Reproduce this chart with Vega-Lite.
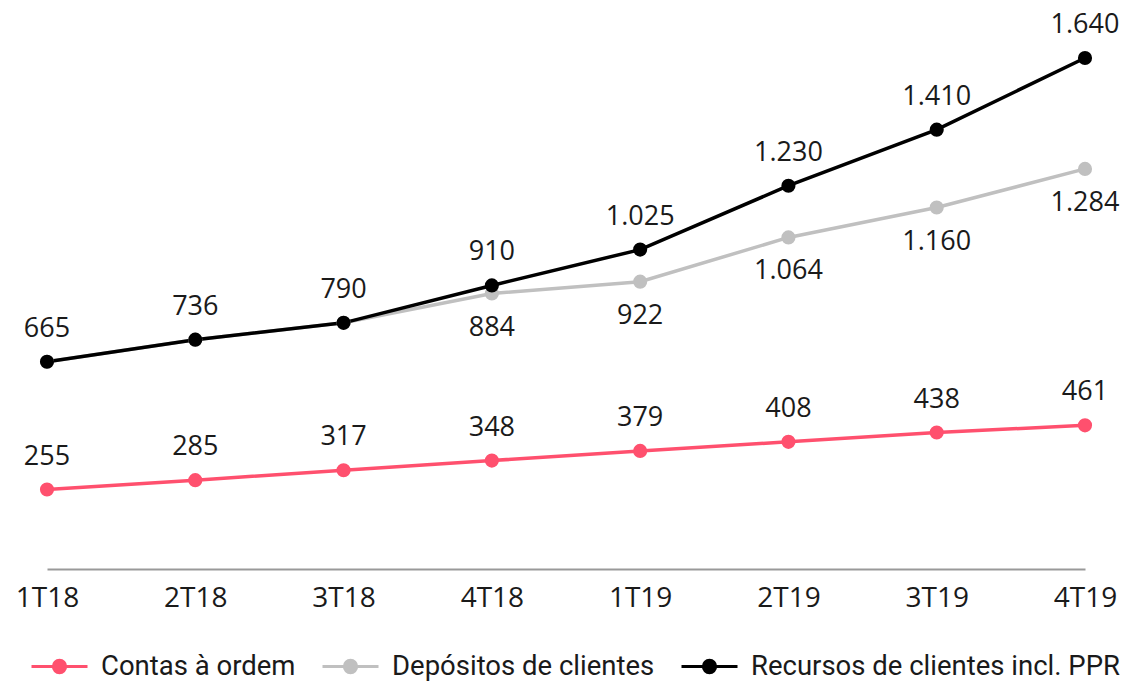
{
  "$schema": "https://vega.github.io/schema/vega-lite/v6.json",
  "width": 1038,
  "height": 569,
  "padding": {"left": 47, "right": 44, "top": 0, "bottom": 115},
  "autosize": {"type": "none"},
  "config": {
    "view": {"stroke": null},
    "font": "Open Sans",
    "locale": {"number": {"decimal": ",", "thousands": ".", "grouping": [3], "currency": ["", " €"]}}
  },
  "data": {
    "values": [
      {"q": "1T18", "s": "Contas à ordem", "v": 255},
      {"q": "2T18", "s": "Contas à ordem", "v": 285},
      {"q": "3T18", "s": "Contas à ordem", "v": 317},
      {"q": "4T18", "s": "Contas à ordem", "v": 348},
      {"q": "1T19", "s": "Contas à ordem", "v": 379},
      {"q": "2T19", "s": "Contas à ordem", "v": 408},
      {"q": "3T19", "s": "Contas à ordem", "v": 438},
      {"q": "4T19", "s": "Contas à ordem", "v": 461},
      {"q": "1T18", "s": "Depósitos de clientes", "v": 665},
      {"q": "2T18", "s": "Depósitos de clientes", "v": 736},
      {"q": "3T18", "s": "Depósitos de clientes", "v": 790},
      {"q": "4T18", "s": "Depósitos de clientes", "v": 884},
      {"q": "1T19", "s": "Depósitos de clientes", "v": 922},
      {"q": "2T19", "s": "Depósitos de clientes", "v": 1064},
      {"q": "3T19", "s": "Depósitos de clientes", "v": 1160},
      {"q": "4T19", "s": "Depósitos de clientes", "v": 1284},
      {"q": "1T18", "s": "Recursos de clientes incl. PPR", "v": 665},
      {"q": "2T18", "s": "Recursos de clientes incl. PPR", "v": 736},
      {"q": "3T18", "s": "Recursos de clientes incl. PPR", "v": 790},
      {"q": "4T18", "s": "Recursos de clientes incl. PPR", "v": 910},
      {"q": "1T19", "s": "Recursos de clientes incl. PPR", "v": 1025},
      {"q": "2T19", "s": "Recursos de clientes incl. PPR", "v": 1230},
      {"q": "3T19", "s": "Recursos de clientes incl. PPR", "v": 1410},
      {"q": "4T19", "s": "Recursos de clientes incl. PPR", "v": 1640}
    ]
  },
  "encoding": {
    "x": {
      "field": "q",
      "type": "ordinal",
      "sort": ["1T18", "2T18", "3T18", "4T18", "1T19", "2T19", "3T19", "4T19"],
      "scale": {"type": "point", "padding": 0},
      "axis": {
        "title": null,
        "labelAngle": 0,
        "domainColor": "#999999",
        "domainWidth": 2,
        "ticks": false,
        "labelFontSize": 28,
        "labelFont": "Open Sans",
        "labelColor": "#1a1a1a",
        "labelPadding": 15
      }
    },
    "y": {
      "field": "v",
      "type": "quantitative",
      "scale": {"domain": [0, 1826], "nice": false, "zero": true},
      "axis": null
    },
    "color": {
      "field": "s",
      "type": "nominal",
      "scale": {
        "domain": ["Contas à ordem", "Depósitos de clientes", "Recursos de clientes incl. PPR"],
        "range": ["#ff506e", "#c0c0c0", "#000000"]
      },
      "legend": {
        "title": null,
        "orient": "none",
        "direction": "horizontal",
        "legendX": -17,
        "legendY": 637,
        "symbolType": "M-1,0L1,0M-0.22,0A0.22,0.22,0,1,0,0.22,0A0.22,0.22,0,1,0,-0.22,0Z",
        "symbolSize": 3136,
        "symbolStrokeWidth": 3,
        "labelFont": "Roboto",
        "labelFontSize": 27.5,
        "labelColor": "#1a1a1a",
        "labelOffset": 12,
        "columnPadding": 20,
        "labelLimit": 500,
        "encode": {
          "symbols": {
            "update": {
              "fill": {"scale": "color", "field": "value"},
              "stroke": {"scale": "color", "field": "value"},
              "opacity": {"value": 1}
            }
          }
        }
      }
    }
  },
  "layer": [
    {"mark": {"type": "line", "strokeWidth": 3.5}},
    {"mark": {"type": "point", "filled": true, "size": 200, "opacity": 1}},
    {
      "transform": [{"filter": "datum.s != 'Depósitos de clientes'"}],
      "mark": {"type": "text", "dy": -25, "baseline": "alphabetic", "fontSize": 27, "font": "Open Sans"},
      "encoding": {"text": {"field": "v", "type": "quantitative", "format": ",d"}, "color": {"value": "#1a1a1a"}}
    },
    {
      "transform": [{"filter": "datum.s == 'Depósitos de clientes' && datum.v > 800"}],
      "mark": {"type": "text", "dy": 42, "baseline": "alphabetic", "fontSize": 27, "font": "Open Sans"},
      "encoding": {"text": {"field": "v", "type": "quantitative", "format": ",d"}, "color": {"value": "#1a1a1a"}}
    }
  ]
}
